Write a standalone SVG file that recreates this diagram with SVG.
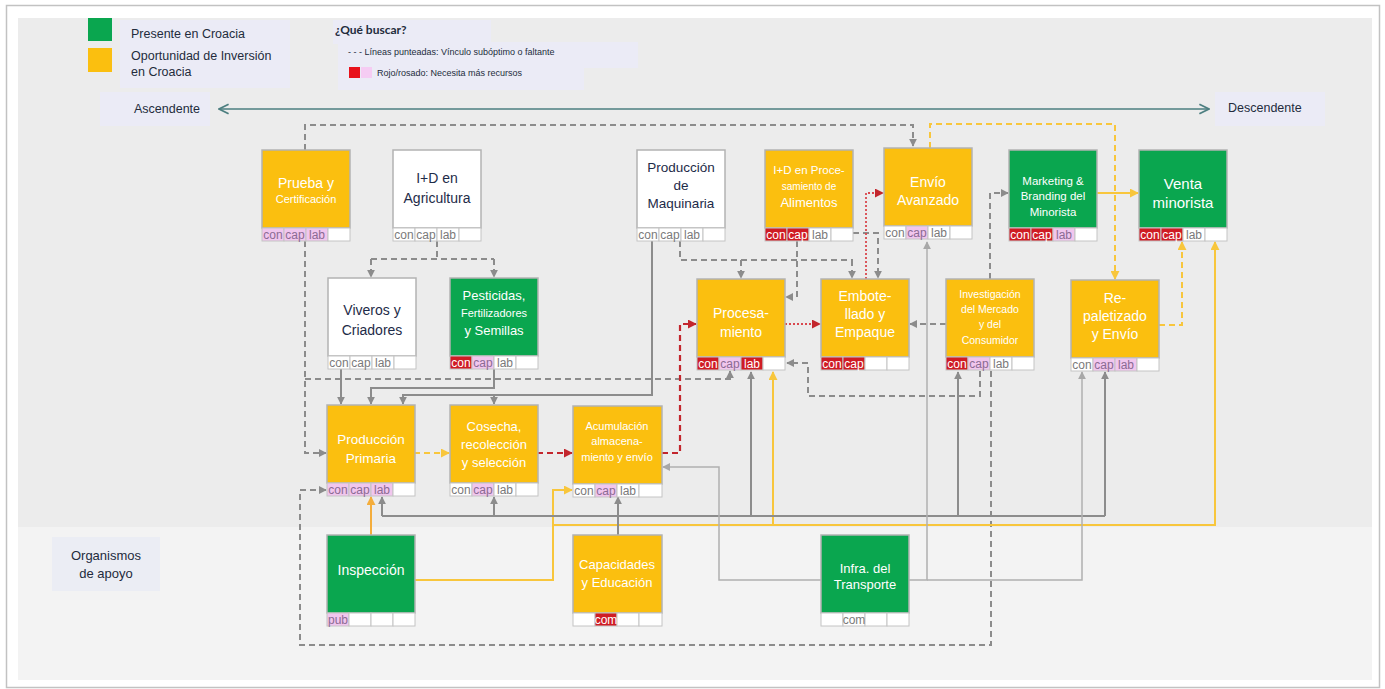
<svg xmlns="http://www.w3.org/2000/svg" width="1385" height="689" viewBox="0 0 1385 689">
<style>
.box{stroke:#b3b3b3;stroke-width:1.5}
.y{fill:#fbbf0f}.g{fill:#0aa64f}.w{fill:#ffffff}
.c{fill:#fff;stroke:#c4c4c4;stroke-width:1}
.rd{fill:#cf1c24}.pk{fill:#f1c6ee}
.ct{font-family:"Liberation Sans Narrow","Liberation Sans",sans-serif;font-size:12px;fill:#7a7a7a;text-anchor:middle}
.ctr{fill:#fff}.ctp{fill:#8b6b93}
.tw{font-family:"Liberation Sans Narrow","Liberation Sans",sans-serif;fill:#fff;text-anchor:middle}
.td{font-family:"Liberation Sans Narrow","Liberation Sans",sans-serif;fill:#1e2b48;text-anchor:middle}
.lg{font-family:"Liberation Sans Narrow","Liberation Sans",sans-serif;fill:#232b3c}
.lav{fill:#ebebf6}
.gd{fill:none;stroke:#8c8c8c;stroke-width:2;stroke-dasharray:6 4}
.gs{fill:none;stroke:#8c8c8c;stroke-width:2}
.gl{fill:none;stroke:#b0b0b0;stroke-width:1.5}
.rdd{fill:none;stroke:#c3262d;stroke-width:2.2;stroke-dasharray:6 4}
.rdt{fill:none;stroke:#d9484e;stroke-width:1.8;stroke-dasharray:2 2}
.yd{fill:none;stroke:#f8c63c;stroke-width:2;stroke-dasharray:6 4}
.ys{fill:none;stroke:#f8c63c;stroke-width:2}
.yo{fill:none;stroke:#f4ad3c;stroke-width:2}
</style>
<defs>
<marker id="ag" viewBox="0 0 10 10" refX="9" refY="5" markerWidth="8" markerHeight="8" markerUnits="userSpaceOnUse" orient="auto"><path d="M0,0 L10,5 L0,10 z" fill="#8c8c8c"/></marker>
<marker id="al" viewBox="0 0 10 10" refX="9" refY="5" markerWidth="8" markerHeight="8" markerUnits="userSpaceOnUse" orient="auto"><path d="M0,0 L10,5 L0,10 z" fill="#a8a8a8"/></marker>
<marker id="ar" viewBox="0 0 10 10" refX="9" refY="5" markerWidth="9" markerHeight="9" markerUnits="userSpaceOnUse" orient="auto"><path d="M0,0 L10,5 L0,10 z" fill="#c3262d"/></marker>
<marker id="ay" viewBox="0 0 10 10" refX="9" refY="5" markerWidth="9" markerHeight="9" markerUnits="userSpaceOnUse" orient="auto"><path d="M0,0 L10,5 L0,10 z" fill="#f8c63c"/></marker>
<marker id="ao" viewBox="0 0 10 10" refX="9" refY="5" markerWidth="9" markerHeight="9" markerUnits="userSpaceOnUse" orient="auto"><path d="M0,0 L10,5 L0,10 z" fill="#f4ad3c"/></marker>
<marker id="at" viewBox="0 0 10 10" refX="9" refY="5" markerWidth="12" markerHeight="12" markerUnits="userSpaceOnUse" orient="auto-start-reverse"><path d="M1,1 L9,5 L1,9" fill="none" stroke="#4d7f80" stroke-width="1.5"/></marker>
</defs>

<g id="background">
<rect x="0" y="0" width="1385" height="689" fill="#ffffff"/>
<rect x="6.5" y="5.5" width="1373" height="682" fill="#ffffff" stroke="#c2c2c2" stroke-width="1.5"/>
<rect x="18" y="18" width="1354" height="509" fill="#ececec"/>
<rect x="18" y="527" width="1354" height="153" fill="#f3f3f3"/>
</g>

<g id="legend">
<rect class="lav" x="120" y="20" width="170" height="68"/>
<rect x="88" y="18" width="24" height="23" fill="#0aa64f"/>
<rect x="88" y="48" width="24" height="24" fill="#fbbf0f"/>
<text class="lg" x="131" y="38" font-size="12.5">Presente en Croacia</text>
<text class="lg" x="131" y="60" font-size="12.5">Oportunidad de Inversión</text>
<text class="lg" x="131" y="76" font-size="12.5">en Croacia</text>
<rect class="lav" x="333" y="20" width="158" height="24"/>
<rect class="lav" x="338" y="42" width="300" height="26"/>
<rect class="lav" x="338" y="64" width="246" height="26"/>
<text x="335" y="34" font-family="Lato,'Liberation Sans',sans-serif" font-weight="bold" font-size="12" fill="#232b3c">¿Qué buscar?</text>
<text class="lg" x="348" y="55" font-size="9">- - - Líneas punteadas: Vínculo subóptimo o faltante</text>
<rect x="349" y="67" width="11" height="11" fill="#e8111b"/>
<rect x="361" y="67" width="11" height="11" fill="#f5ccf3"/>
<text class="lg" x="377" y="76" font-size="9">Rojo/rosado: Necesita más recursos</text>
</g>

<g id="axis">
<rect class="lav" x="100" y="92" width="110" height="34"/>
<rect class="lav" x="1215" y="92" width="110" height="34"/>
<text class="lg" x="134" y="113" font-size="12.5">Ascendente</text>
<text class="lg" x="1228" y="112" font-size="12.5">Descendente</text>
<line x1="219" y1="109" x2="1209" y2="109" stroke="#4d7f80" stroke-width="1.5" marker-start="url(#at)" marker-end="url(#at)"/>
</g>

<g id="support-label">
<rect x="52" y="537" width="108" height="54" fill="#ebedf4"/>
<text class="lg" x="106" y="560" font-size="13" text-anchor="middle">Organismos</text>
<text class="lg" x="106" y="578" font-size="13" text-anchor="middle">de apoyo</text>
</g>

<g id="connectors">
<path class="gd" d="M305,150 V125 H913 V146" marker-end="url(#ag)"/>
<path class="yd" d="M930,148 V124 H1115 V279" marker-end="url(#ay)"/>
<path class="gd" d="M305,241 V453 H326" marker-end="url(#ag)"/>
<path class="gd" d="M305,379 H730 V371" marker-end="url(#ag)"/>
<path class="gd" d="M437,241 V259"/>
<path class="gd" d="M371,259 H494"/>
<path class="gd" d="M371,259 V277" marker-end="url(#ag)"/>
<path class="gd" d="M494,259 V277" marker-end="url(#ag)"/>
<path class="gs" d="M341,369 V404" marker-end="url(#ag)"/>
<path class="gs" d="M494,369 V388 H371 V404" marker-end="url(#ag)"/>
<path class="gs" d="M652,241 V395 H403 V404" marker-end="url(#ag)"/>
<path class="gs" d="M494,395 V404" marker-end="url(#ag)"/>
<path class="gd" d="M680,241 V260 H853"/>
<path class="gd" d="M741,260 V278" marker-end="url(#ag)"/>
<path class="gd" d="M852,260 V278" marker-end="url(#ag)"/>
<path class="gd" d="M853,233 H878 V278" marker-end="url(#ag)"/>
<path class="gd" d="M797,241 V297 H786" marker-end="url(#ag)"/>
<path class="rdt" d="M866,279 V193 H883" marker-end="url(#ar)"/>
<path class="rdt" d="M785,324 H820" marker-end="url(#ar)"/>
<path class="rdd" d="M662,453 H680 V324 H696" marker-end="url(#ar)"/>
<path class="rdd" d="M537,453 H572" marker-end="url(#ar)"/>
<path class="yd" d="M414,453 H449" marker-end="url(#ay)"/>
<path class="gd" d="M946,324 H910" marker-end="url(#ag)"/>
<path class="gd" d="M980,371 V396 H808 V363 H787" marker-end="url(#ag)"/>
<path class="gd" d="M990,279 V193 H1008" marker-end="url(#ag)"/>
<path class="gd" d="M991,371 V645 H300 V490 H326" marker-end="url(#ag)"/>
<path class="ys" d="M1096,193 H1138" marker-end="url(#ay)"/>
<path class="yd" d="M1159,325 H1182 V242" marker-end="url(#ay)"/>
<path class="yo" d="M371,535 V497" marker-end="url(#ao)"/>
<path class="ys" d="M414,580 H553 V490 H572" marker-end="url(#ay)"/>
<path class="ys" d="M553,525 H1215 V242" marker-end="url(#ay)"/>
<path class="ys" d="M773,525 V372" marker-end="url(#ay)"/>
<path class="gs" d="M618,535 V497" marker-end="url(#ag)"/>
<path class="gs" d="M382,516 H1105"/>
<path class="gs" d="M382,516 V497" marker-end="url(#ag)"/>
<path class="gs" d="M494,516 V497" marker-end="url(#ag)"/>
<path class="gs" d="M751,516 V372" marker-end="url(#ag)"/>
<path class="gs" d="M958,516 V372" marker-end="url(#ag)"/>
<path class="gs" d="M1105,516 V372" marker-end="url(#ag)"/>
<path class="gl" d="M821,580 H719 V467 H663" marker-end="url(#al)"/>
<path class="gl" d="M909,580 H927 V242" marker-end="url(#al)"/>
<path class="gl" d="M927,580 H1082 V372" marker-end="url(#al)"/>
</g>

<g id="n-prueba">
<rect class="box y" x="262" y="150" width="88" height="78"/>
<rect class="c pk" x="262" y="228" width="22" height="13"/><rect class="c pk" x="284" y="228" width="22" height="13"/><rect class="c pk" x="306" y="228" width="22" height="13"/><rect class="c" x="328" y="228" width="22" height="13"/>
<text class="ct ctp" x="273" y="238.5">con</text><text class="ct ctp" x="295" y="238.5">cap</text><text class="ct ctp" x="317" y="238.5">lab</text>
<text class="tw" x="306" y="188" font-size="14">Prueba y</text>
<text class="tw" x="306" y="203" font-size="11">Certificación</text>
</g>

<g id="n-id-agricultura">
<rect class="box w" x="393" y="150" width="88" height="78"/>
<rect class="c" x="393" y="228" width="22" height="13"/><rect class="c" x="415" y="228" width="22" height="13"/><rect class="c" x="437" y="228" width="22" height="13"/><rect class="c" x="459" y="228" width="22" height="13"/>
<text class="ct" x="404" y="238.5">con</text><text class="ct" x="426" y="238.5">cap</text><text class="ct" x="448" y="238.5">lab</text>
<text class="td" x="437" y="183" font-size="14">I+D en</text>
<text class="td" x="437" y="203" font-size="14">Agricultura</text>
</g>

<g id="n-maquinaria">
<rect class="box w" x="637" y="150" width="88" height="78"/>
<rect class="c" x="637" y="228" width="22" height="13"/><rect class="c" x="659" y="228" width="22" height="13"/><rect class="c" x="681" y="228" width="22" height="13"/><rect class="c" x="703" y="228" width="22" height="13"/>
<text class="ct" x="648" y="238.5">con</text><text class="ct" x="670" y="238.5">cap</text><text class="ct" x="692" y="238.5">lab</text>
<text class="td" x="681" y="172" font-size="13.5">Producción</text>
<text class="td" x="681" y="190" font-size="13.5">de</text>
<text class="td" x="681" y="208" font-size="13.5">Maquinaria</text>
</g>

<g id="n-id-procesamiento">
<rect class="box y" x="765" y="150" width="88" height="78"/>
<rect class="c rd" x="765" y="228" width="22" height="13"/><rect class="c rd" x="787" y="228" width="22" height="13"/><rect class="c" x="809" y="228" width="22" height="13"/><rect class="c" x="831" y="228" width="22" height="13"/>
<text class="ct ctr" x="776" y="238.5">con</text><text class="ct ctr" x="798" y="238.5">cap</text><text class="ct" x="820" y="238.5">lab</text>
<text class="tw" x="809" y="174" font-size="11.5">I+D en Proce-</text>
<text class="tw" x="809" y="190" font-size="10">samiento de</text>
<text class="tw" x="809" y="207" font-size="13">Alimentos</text>
</g>

<g id="n-envio-avanzado">
<rect class="box y" x="884" y="148" width="88" height="78"/>
<rect class="c" x="884" y="226" width="22" height="13"/><rect class="c pk" x="906" y="226" width="22" height="13"/><rect class="c" x="928" y="226" width="22" height="13"/><rect class="c" x="950" y="226" width="22" height="13"/>
<text class="ct" x="895" y="236.5">con</text><text class="ct ctp" x="917" y="236.5">cap</text><text class="ct" x="939" y="236.5">lab</text>
<text class="tw" x="928" y="187" font-size="14">Envío</text>
<text class="tw" x="928" y="205" font-size="14">Avanzado</text>
</g>

<g id="n-marketing">
<rect class="box g" x="1009" y="150" width="88" height="78"/>
<rect class="c rd" x="1009" y="228" width="22" height="13"/><rect class="c rd" x="1031" y="228" width="22" height="13"/><rect class="c pk" x="1053" y="228" width="22" height="13"/><rect class="c" x="1075" y="228" width="22" height="13"/>
<text class="ct ctr" x="1020" y="238.5">con</text><text class="ct ctr" x="1042" y="238.5">cap</text><text class="ct ctp" x="1064" y="238.5">lab</text>
<text class="tw" x="1053" y="185" font-size="11.5">Marketing &amp;</text>
<text class="tw" x="1053" y="200" font-size="11.5">Branding del</text>
<text class="tw" x="1053" y="216" font-size="11.5">Minorista</text>
</g>

<g id="n-venta">
<rect class="box g" x="1139" y="150" width="88" height="78"/>
<rect class="c rd" x="1139" y="228" width="22" height="13"/><rect class="c rd" x="1161" y="228" width="22" height="13"/><rect class="c" x="1183" y="228" width="22" height="13"/><rect class="c" x="1205" y="228" width="22" height="13"/>
<text class="ct ctr" x="1150" y="238.5">con</text><text class="ct ctr" x="1172" y="238.5">cap</text><text class="ct" x="1194" y="238.5">lab</text>
<text class="tw" x="1183" y="189" font-size="15">Venta</text>
<text class="tw" x="1183" y="208" font-size="15">minorista</text>
</g>

<g id="n-viveros">
<rect class="box w" x="328" y="278" width="88" height="78"/>
<rect class="c" x="328" y="356" width="22" height="13"/><rect class="c" x="350" y="356" width="22" height="13"/><rect class="c" x="372" y="356" width="22" height="13"/><rect class="c" x="394" y="356" width="22" height="13"/>
<text class="ct" x="339" y="366.5">con</text><text class="ct" x="361" y="366.5">cap</text><text class="ct" x="383" y="366.5">lab</text>
<text class="td" x="372" y="315" font-size="14">Viveros y</text>
<text class="td" x="372" y="335" font-size="14">Criadores</text>
</g>

<g id="n-pesticidas">
<rect class="box g" x="450" y="278" width="88" height="78"/>
<rect class="c rd" x="450" y="356" width="22" height="13"/><rect class="c pk" x="472" y="356" width="22" height="13"/><rect class="c" x="494" y="356" width="22" height="13"/><rect class="c" x="516" y="356" width="22" height="13"/>
<text class="ct ctr" x="461" y="366.5">con</text><text class="ct ctp" x="483" y="366.5">cap</text><text class="ct" x="505" y="366.5">lab</text>
<text class="tw" x="494" y="300" font-size="13">Pesticidas,</text>
<text class="tw" x="494" y="317" font-size="11">Fertilizadores</text>
<text class="tw" x="494" y="335" font-size="13">y Semillas</text>
</g>

<g id="n-procesamiento">
<rect class="box y" x="697" y="279" width="88" height="78"/>
<rect class="c rd" x="697" y="357" width="22" height="13"/><rect class="c pk" x="719" y="357" width="22" height="13"/><rect class="c rd" x="741" y="357" width="22" height="13"/><rect class="c" x="763" y="357" width="22" height="13"/>
<text class="ct ctr" x="708" y="367.5">con</text><text class="ct ctp" x="730" y="367.5">cap</text><text class="ct ctr" x="752" y="367.5">lab</text>
<text class="tw" x="741" y="318" font-size="14">Procesa-</text>
<text class="tw" x="741" y="337" font-size="14">miento</text>
</g>

<g id="n-embotellado">
<rect class="box y" x="821" y="279" width="88" height="78"/>
<rect class="c rd" x="821" y="357" width="22" height="13"/><rect class="c rd" x="843" y="357" width="22" height="13"/><rect class="c" x="865" y="357" width="22" height="13"/><rect class="c" x="887" y="357" width="22" height="13"/>
<text class="ct ctr" x="832" y="367.5">con</text><text class="ct ctr" x="854" y="367.5">cap</text>
<text class="tw" x="865" y="301" font-size="14">Embote-</text>
<text class="tw" x="865" y="319" font-size="14">llado y</text>
<text class="tw" x="865" y="337" font-size="14">Empaque</text>
</g>

<g id="n-investigacion">
<rect class="box y" x="946" y="279" width="88" height="78"/>
<rect class="c rd" x="946" y="357" width="22" height="13"/><rect class="c pk" x="968" y="357" width="22" height="13"/><rect class="c" x="990" y="357" width="22" height="13"/><rect class="c" x="1012" y="357" width="22" height="13"/>
<text class="ct ctr" x="957" y="367.5">con</text><text class="ct ctp" x="979" y="367.5">cap</text><text class="ct" x="1001" y="367.5">lab</text>
<text class="tw" x="990" y="298" font-size="10.5">Investigación</text>
<text class="tw" x="990" y="313" font-size="10.5">del Mercado</text>
<text class="tw" x="990" y="328" font-size="10.5">y del</text>
<text class="tw" x="990" y="344" font-size="10.5">Consumidor</text>
</g>

<g id="n-repaletizado">
<rect class="box y" x="1071" y="280" width="88" height="78"/>
<rect class="c" x="1071" y="358" width="22" height="13"/><rect class="c pk" x="1093" y="358" width="22" height="13"/><rect class="c pk" x="1115" y="358" width="22" height="13"/><rect class="c" x="1137" y="358" width="22" height="13"/>
<text class="ct" x="1082" y="368.5">con</text><text class="ct ctp" x="1104" y="368.5">cap</text><text class="ct ctp" x="1126" y="368.5">lab</text>
<text class="tw" x="1115" y="303" font-size="14">Re-</text>
<text class="tw" x="1115" y="321" font-size="14">paletizado</text>
<text class="tw" x="1115" y="339" font-size="14">y Envío</text>
</g>

<g id="n-produccion-primaria">
<rect class="box y" x="327" y="405" width="88" height="78"/>
<rect class="c pk" x="327" y="483" width="22" height="13"/><rect class="c pk" x="349" y="483" width="22" height="13"/><rect class="c pk" x="371" y="483" width="22" height="13"/><rect class="c" x="393" y="483" width="22" height="13"/>
<text class="ct ctp" x="338" y="493.5">con</text><text class="ct ctp" x="360" y="493.5">cap</text><text class="ct ctp" x="382" y="493.5">lab</text>
<text class="tw" x="371" y="444" font-size="13.5">Producción</text>
<text class="tw" x="371" y="463" font-size="13.5">Primaria</text>
</g>

<g id="n-cosecha">
<rect class="box y" x="450" y="405" width="88" height="78"/>
<rect class="c" x="450" y="483" width="22" height="13"/><rect class="c pk" x="472" y="483" width="22" height="13"/><rect class="c" x="494" y="483" width="22" height="13"/><rect class="c" x="516" y="483" width="22" height="13"/>
<text class="ct" x="461" y="493.5">con</text><text class="ct ctp" x="483" y="493.5">cap</text><text class="ct" x="505" y="493.5">lab</text>
<text class="tw" x="494" y="431" font-size="13">Cosecha,</text>
<text class="tw" x="494" y="449" font-size="13">recolección</text>
<text class="tw" x="494" y="467" font-size="13">y selección</text>
</g>

<g id="n-acumulacion">
<rect class="box y" x="573" y="406" width="89" height="78"/>
<rect class="c" x="573" y="484" width="22" height="13"/><rect class="c pk" x="595" y="484" width="22" height="13"/><rect class="c" x="617" y="484" width="22" height="13"/><rect class="c" x="639" y="484" width="23" height="13"/>
<text class="ct" x="584" y="494.5">con</text><text class="ct ctp" x="606" y="494.5">cap</text><text class="ct" x="628" y="494.5">lab</text>
<text class="tw" x="617" y="430" font-size="11">Acumulación</text>
<text class="tw" x="617" y="445" font-size="11">almacena-</text>
<text class="tw" x="617" y="461" font-size="11">miento y envío</text>
</g>

<g id="n-inspeccion">
<rect class="box g" x="327" y="535" width="88" height="78"/>
<rect class="c pk" x="327" y="613" width="22" height="13"/><rect class="c" x="349" y="613" width="22" height="13"/><rect class="c" x="371" y="613" width="22" height="13"/><rect class="c" x="393" y="613" width="22" height="13"/>
<text class="ct ctp" x="338" y="623.5">pub</text>
<text class="tw" x="371" y="575" font-size="14">Inspección</text>
</g>

<g id="n-capacidades">
<rect class="box y" x="573" y="535" width="89" height="78"/>
<rect class="c" x="573" y="613" width="22" height="13"/><rect class="c rd" x="595" y="613" width="22" height="13"/><rect class="c" x="617" y="613" width="22" height="13"/><rect class="c" x="639" y="613" width="23" height="13"/>
<text class="ct ctr" x="606" y="623.5">com</text>
<text class="tw" x="617" y="569" font-size="13">Capacidades</text>
<text class="tw" x="617" y="587" font-size="13">y Educación</text>
</g>

<g id="n-infra">
<rect class="box g" x="821" y="535" width="88" height="78"/>
<rect class="c" x="821" y="613" width="22" height="13"/><rect class="c" x="843" y="613" width="22" height="13"/><rect class="c" x="865" y="613" width="22" height="13"/><rect class="c" x="887" y="613" width="22" height="13"/>
<text class="ct" x="854" y="623.5">com</text>
<text class="tw" x="865" y="573" font-size="13">Infra. del</text>
<text class="tw" x="865" y="589" font-size="13">Transporte</text>
</g>
</svg>
